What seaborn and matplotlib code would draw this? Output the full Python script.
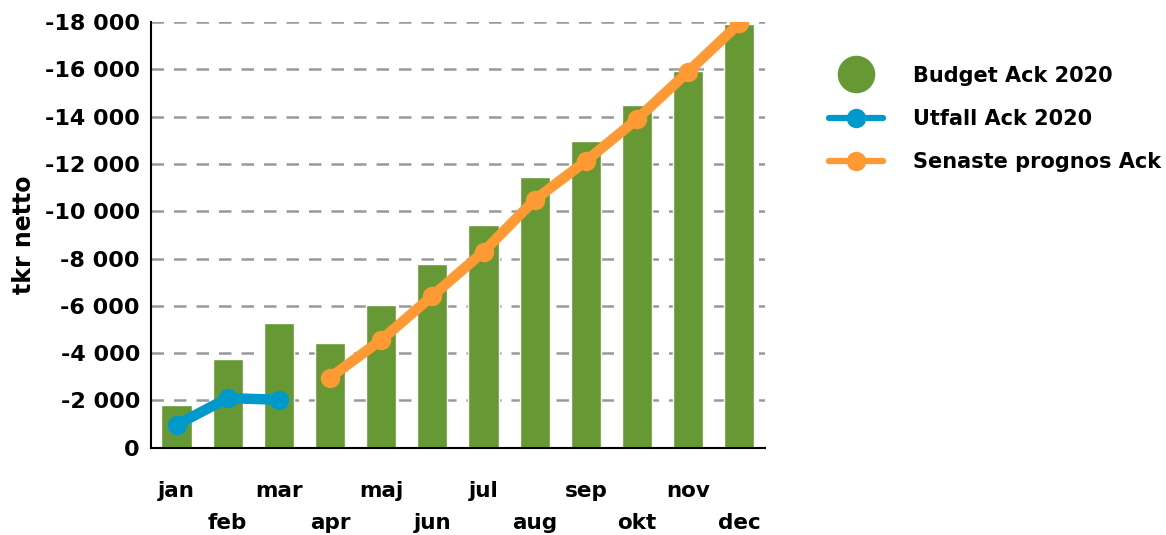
import numpy as np
import pandas as pd
import seaborn as sns
import matplotlib.pyplot as plt
from matplotlib.lines import Line2D
from matplotlib.ticker import FuncFormatter

# data (tkr netto, cumulative)
months = ['jan', 'feb', 'mar', 'apr', 'maj', 'jun', 'jul', 'aug', 'sep', 'okt', 'nov', 'dec']
budget_ack = [-1800, -3750, -5270, -4450, -6030, -7760, -9400, -11450, -12960, -14480, -15930, -17910]
utfall_months = ['jan', 'feb', 'mar']
utfall_ack = [-970, -2100, -2030]
prognos_months = ['apr', 'maj', 'jun', 'jul', 'aug', 'sep', 'okt', 'nov', 'dec']
prognos_ack = [-2970, -4560, -6420, -8290, -10480, -12120, -13890, -15900, -17940]

green = '#669933'
blue = '#0099cc'
orange = '#ff9933'

sns.set_style('white')
plt.rcParams['font.family'] = ['DejaVu Sans']
plt.rcParams['font.weight'] = 'bold'
plt.rcParams['text.color'] = 'black'
plt.rcParams['xtick.color'] = 'black'
plt.rcParams['ytick.color'] = 'black'
plt.rcParams['axes.labelcolor'] = 'black'

fig = plt.figure(figsize=(11.66, 5.35), dpi=100)
ax = fig.add_axes([0.1295, 0.163, 0.5265, 0.796])

budget_df = pd.DataFrame({'month': months, 'value': budget_ack})
sns.barplot(data=budget_df, x='month', y='value', color=green, saturation=1,
            width=0.59, ax=ax, zorder=2)

utfall_df = pd.DataFrame({'month': utfall_months, 'value': utfall_ack})
prognos_df = pd.DataFrame({'month': prognos_months, 'value': prognos_ack})
sns.lineplot(data=utfall_df, x='month', y='value', color=blue, lw=7.5, marker='o',
             markersize=14, markeredgewidth=0, sort=False, ax=ax, zorder=3)
sns.lineplot(data=prognos_df, x='month', y='value', color=orange, lw=7.5, marker='o',
             markersize=14, markeredgewidth=0, sort=False, ax=ax, zorder=3)

ax.set_xlim(-0.5, 11.5)
ax.set_ylim(0, -18000)
ax.set_yticks(np.arange(0, -18001, -2000))
ax.yaxis.set_major_formatter(FuncFormatter(lambda v, p: f'{int(v):,}'.replace(',', ' ')))
ax.set_xticks(range(len(months)))
ax.set_xticklabels([m if i % 2 == 0 else '\n' + m for i, m in enumerate(months)])
ax.tick_params(axis='x', length=10, width=1.5, labelsize=15.5, pad=14)
ax.tick_params(axis='y', length=0, labelsize=16, pad=8)
for lab in ax.get_xticklabels() + ax.get_yticklabels():
    lab.set_fontweight('bold')
for lab in ax.get_xticklabels():
    lab.set_linespacing(1.75)

ax.yaxis.grid(True, color='#999999', linestyle=(0, (5, 4)), lw=1.8, zorder=0)
ax.xaxis.grid(False)
ax.set_axisbelow(True)
for s in ['top', 'right']:
    ax.spines[s].set_visible(False)
for s in ['left', 'bottom']:
    ax.spines[s].set_color('black')
    ax.spines[s].set_linewidth(1.5)

ax.set_xlabel('')
ax.set_ylabel('tkr netto', fontsize=17, fontweight='bold', labelpad=6)

handles = [
    Line2D([], [], ls='none', marker='o', markersize=26, color=green),
    Line2D([], [], color=blue, lw=4.5, marker='o', markersize=13),
    Line2D([], [], color=orange, lw=4.5, marker='o', markersize=13),
]
labels = ['Budget Ack 2020', 'Utfall Ack 2020', 'Senaste prognos Ack']
fig.legend(handles, labels, loc='upper left', bbox_to_anchor=(0.704, 0.893),
           frameon=False, handlelength=2.6, labelspacing=1.12,
           handletextpad=1.4, borderaxespad=0, prop={'weight': 'bold', 'size': 15})

fig.savefig('out.png', dpi=100)
